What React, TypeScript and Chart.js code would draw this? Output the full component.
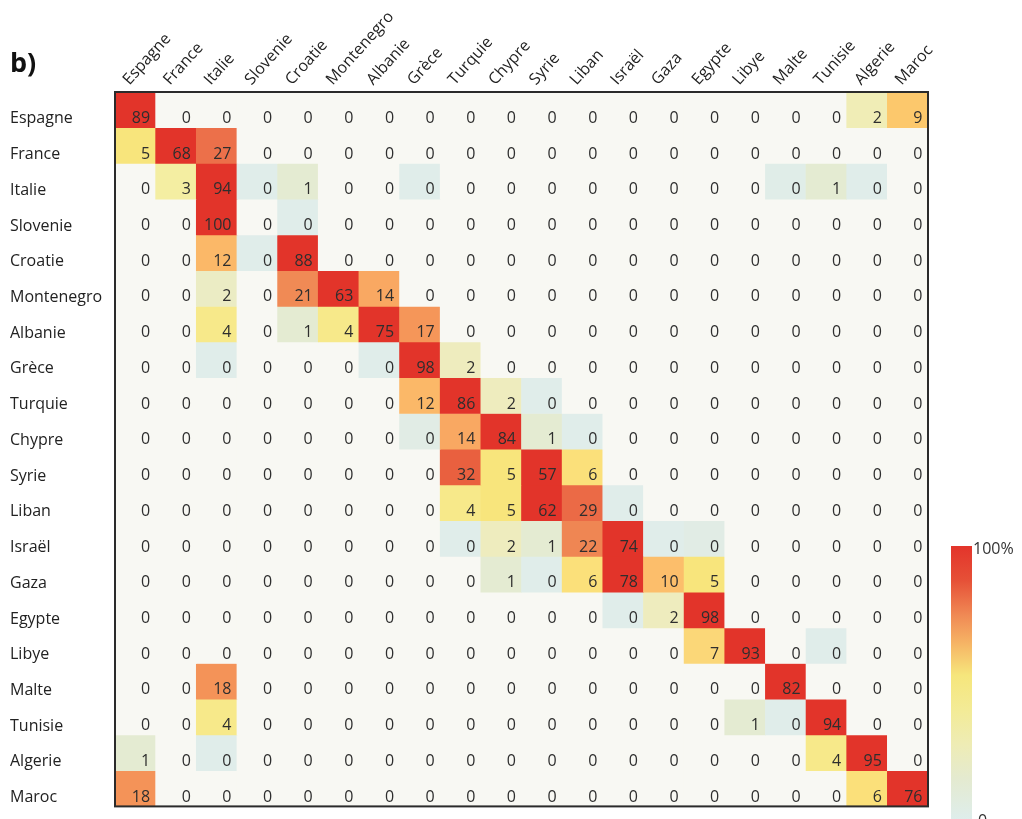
import React, { useEffect, useRef } from "react";
import { Chart, registerables } from "chart.js";

Chart.register(...registerables);

const countries = [
  "Espagne", "France", "Italie", "Slovenie", "Croatie", "Montenegro", "Albanie", "Grèce", "Turquie", "Chypre",
  "Syrie", "Liban", "Israël", "Gaza", "Egypte", "Libye", "Malte", "Tunisie", "Algerie", "Maroc",
];

// percentage values, row = origin, column = assigned (small non-zero values round to 0)
const rowEspagne = [89, 0, 0, 0, 0, 0, 0, 0, 0, 0, 0, 0, 0, 0, 0, 0, 0, 0, 2.3, 9];
const rowFrance = [5, 68, 27, 0, 0, 0, 0, 0, 0, 0, 0, 0, 0, 0, 0, 0, 0, 0, 0, 0];
const rowItalie = [0, 3, 94, 0.2, 1, 0, 0, 0.2, 0, 0, 0, 0, 0, 0, 0, 0, 0.3, 1, 0.2, 0];
const rowSlovenie = [0, 0, 100, 0, 0.2, 0, 0, 0, 0, 0, 0, 0, 0, 0, 0, 0, 0, 0, 0, 0];
const rowCroatie = [0, 0, 12, 0.2, 88, 0, 0, 0, 0, 0, 0, 0, 0, 0, 0, 0, 0, 0, 0, 0];
const rowMontenegro = [0, 0, 1.7, 0, 21, 63, 14, 0, 0, 0, 0, 0, 0, 0, 0, 0, 0, 0, 0, 0];
const rowAlbanie = [0, 0, 4, 0, 1, 4, 75, 17, 0, 0, 0, 0, 0, 0, 0, 0, 0, 0, 0, 0];
const rowGrece = [0, 0, 0.2, 0, 0, 0, 0.2, 98, 2, 0, 0, 0, 0, 0, 0, 0, 0, 0, 0, 0];
const rowTurquie = [0, 0, 0, 0, 0, 0, 0, 12, 86, 2, 0.2, 0, 0, 0, 0, 0, 0, 0, 0, 0];
const rowChypre = [0, 0, 0, 0, 0, 0, 0, 0.4, 14, 84, 1, 0.2, 0, 0, 0, 0, 0, 0, 0, 0];
const rowSyrie = [0, 0, 0, 0, 0, 0, 0, 0, 32, 5, 57, 6, 0, 0, 0, 0, 0, 0, 0, 0];
const rowLiban = [0, 0, 0, 0, 0, 0, 0, 0, 4, 5, 62, 29, 0.2, 0, 0, 0, 0, 0, 0, 0];
const rowIsrael = [0, 0, 0, 0, 0, 0, 0, 0, 0.2, 2, 1, 22, 74, 0.2, 0.4, 0, 0, 0, 0, 0];
const rowGaza = [0, 0, 0, 0, 0, 0, 0, 0, 0, 1, 0.2, 6, 78, 10, 5, 0, 0, 0, 0, 0];
const rowEgypte = [0, 0, 0, 0, 0, 0, 0, 0, 0, 0, 0, 0, 0.2, 2, 98, 0, 0, 0, 0, 0];
const rowLibye = [0, 0, 0, 0, 0, 0, 0, 0, 0, 0, 0, 0, 0, 0, 7, 93, 0, 0.2, 0, 0];
const rowMalte = [0, 0, 18, 0, 0, 0, 0, 0, 0, 0, 0, 0, 0, 0, 0, 0, 82, 0, 0, 0];
const rowTunisie = [0, 0, 4, 0, 0, 0, 0, 0, 0, 0, 0, 0, 0, 0, 0, 1, 0.2, 94, 0, 0];
const rowAlgerie = [1, 0, 0.2, 0, 0, 0, 0, 0, 0, 0, 0, 0, 0, 0, 0, 0, 0, 4, 95, 0];
const rowMaroc = [18, 0, 0, 0, 0, 0, 0, 0, 0, 0, 0, 0, 0, 0, 0, 0, 0, 0, 6, 76];

const matrix = [
  rowEspagne, rowFrance, rowItalie, rowSlovenie, rowCroatie, rowMontenegro, rowAlbanie, rowGrece,
  rowTurquie, rowChypre, rowSyrie, rowLiban, rowIsrael, rowGaza, rowEgypte, rowLibye, rowMalte,
  rowTunisie, rowAlgerie, rowMaroc,
];

const colorbarTicks = ["100%", "0"];

const BG = "rgb(248,248,243)";
const STOPS: [number, number, number, number][] = [
  [0, 222, 238, 240],
  [0.5, 226, 236, 226],
  [1, 228, 235, 210],
  [2, 238, 236, 190],
  [3, 244, 238, 162],
  [4, 247, 233, 138],
  [5, 248, 229, 124],
  [6, 251, 224, 122],
  [7, 251, 215, 120],
  [9, 252, 200, 108],
  [10, 252, 190, 107],
  [12, 251, 184, 104],
  [14, 249, 168, 98],
  [17, 245, 150, 89],
  [21, 240, 138, 85],
  [27, 236, 112, 74],
  [32, 233, 96, 63],
  [45, 228, 62, 45],
  [55, 226, 52, 42],
  [100, 226, 52, 42],
];

function cellColor(v: number): string {
  if (v === 0) return BG;
  for (let i = 1; i < STOPS.length; i++) {
    const a = STOPS[i - 1];
    const b = STOPS[i];
    if (v <= b[0]) {
      const t = (v - a[0]) / (b[0] - a[0]);
      const r = Math.round(a[1] + (b[1] - a[1]) * t);
      const g = Math.round(a[2] + (b[2] - a[2]) * t);
      const bl = Math.round(a[3] + (b[3] - a[3]) * t);
      return `rgb(${r},${g},${bl})`;
    }
  }
  return "rgb(226,52,42)";
}

const FONT = '"Open Sans", "DejaVu Sans", sans-serif';

const decorPlugin = {
  id: "decor",
  beforeDatasetsDraw(chart: any) {
    const { ctx, chartArea } = chart;
    ctx.save();
    ctx.fillStyle = BG;
    ctx.fillRect(chartArea.left, chartArea.top, chartArea.right - chartArea.left, chartArea.bottom - chartArea.top);
    ctx.restore();
  },
  afterDatasetsDraw(chart: any) {
    const { ctx, chartArea } = chart;
    const xs = chart.scales.x;
    const ys = chart.scales.y;
    ctx.save();
    ctx.font = `16px ${FONT}`;
    ctx.fillStyle = "#2e2e2e";
    ctx.textAlign = "right";
    ctx.textBaseline = "alphabetic";
    matrix.forEach((row, r) => {
      row.forEach((v, c) => {
        const xr = xs.getPixelForValue(c + 0.5);
        const yc = ys.getPixelForValue(r + 0.5);
        ctx.fillText(String(Math.round(v)), xr - 5.5, yc + 13);
      });
    });
    // frame
    ctx.strokeStyle = "#2b2b2b";
    ctx.lineWidth = 2;
    ctx.strokeRect(chartArea.left, chartArea.top, chartArea.right - chartArea.left, chartArea.bottom - chartArea.top);

    // title
    ctx.textAlign = "left";
    ctx.fillStyle = "#111";
    ctx.font = `bold 27px ${FONT}`;
    ctx.fillText("b)", 10, 72);

    // colorbar
    const bx = 951, by = 546, bw = 21, bh = 284;
    const grad = ctx.createLinearGradient(0, by, 0, by + bh);
    grad.addColorStop(0, "rgb(227,52,43)");
    grad.addColorStop(0.12, "rgb(230,80,55)");
    grad.addColorStop(0.245, "rgb(240,138,85)");
    grad.addColorStop(0.345, "rgb(246,181,101)");
    grad.addColorStop(0.455, "rgb(246,230,124)");
    grad.addColorStop(0.575, "rgb(243,235,150)");
    grad.addColorStop(0.7, "rgb(238,236,181)");
    grad.addColorStop(0.82, "rgb(228,234,208)");
    grad.addColorStop(0.97, "rgb(222,238,237)");
    grad.addColorStop(1, "rgb(222,238,240)");
    ctx.fillStyle = grad;
    ctx.fillRect(bx, by, bw, bh);
    ctx.fillStyle = "#333";
    ctx.font = `16px ${FONT}`;
    ctx.textBaseline = "alphabetic";
    ctx.fillText(colorbarTicks[0], 973, 554);
    ctx.fillText(colorbarTicks[1], 978, 826);
    ctx.restore();
  },
};

export default function App() {
  const ref = useRef<HTMLCanvasElement | null>(null);
  useEffect(() => {
    document.body.style.margin = "0";
    document.body.style.overflow = "hidden";
    const canvas = ref.current;
    if (!canvas) return;
    const datasets = matrix.map((row, r) => ({
      label: countries[r],
      data: row.map(() => [r, r + 1]),
      backgroundColor: row.map((v) => cellColor(v)),
      borderWidth: 0,
      grouped: false,
      barPercentage: 1,
      categoryPercentage: 1,
    }));
    const chart = new Chart(canvas, {
      type: "bar",
      data: { labels: countries, datasets: datasets as any },
      plugins: [decorPlugin],
      options: {
        responsive: false,
        animation: false,
        layout: { padding: { left: 10, top: 0, right: 94, bottom: 2 } },
        plugins: { legend: { display: false }, tooltip: { enabled: false } },
        scales: {
          x: {
            type: "category",
            position: "top",
            offset: true,
            grid: { display: false, drawTicks: false },
            border: { display: false },
            ticks: {
              minRotation: 48,
              maxRotation: 48,
              autoSkip: false,
              labelOffset: 5,
              padding: 3,
              color: "#222",
              font: { family: FONT, size: 16 },
            },
            afterFit: (s: any) => {
              s.height = 92;
            },
          },
          y: {
            type: "linear",
            min: 0,
            max: 20,
            reverse: true,
            grid: { display: false, drawTicks: false },
            border: { display: false },
            afterBuildTicks: (s: any) => {
              s.ticks = countries.map((_, i) => ({ value: i + 0.5 }));
            },
            ticks: {
              autoSkip: false,
              crossAlign: "far",
              labelOffset: 9,
              color: "#222",
              font: { family: FONT, size: 16 },
              callback: (v: any) => countries[Math.floor(Number(v))],
            },
            afterFit: (s: any) => {
              s.width = 105;
            },
          },
        },
      } as any,
    });
    return () => chart.destroy();
  }, []);
  return (
    <div style={{ width: 1022, height: 819, background: "#fff" }}>
      <canvas ref={ref} width={1022} height={819} />
    </div>
  );
}
